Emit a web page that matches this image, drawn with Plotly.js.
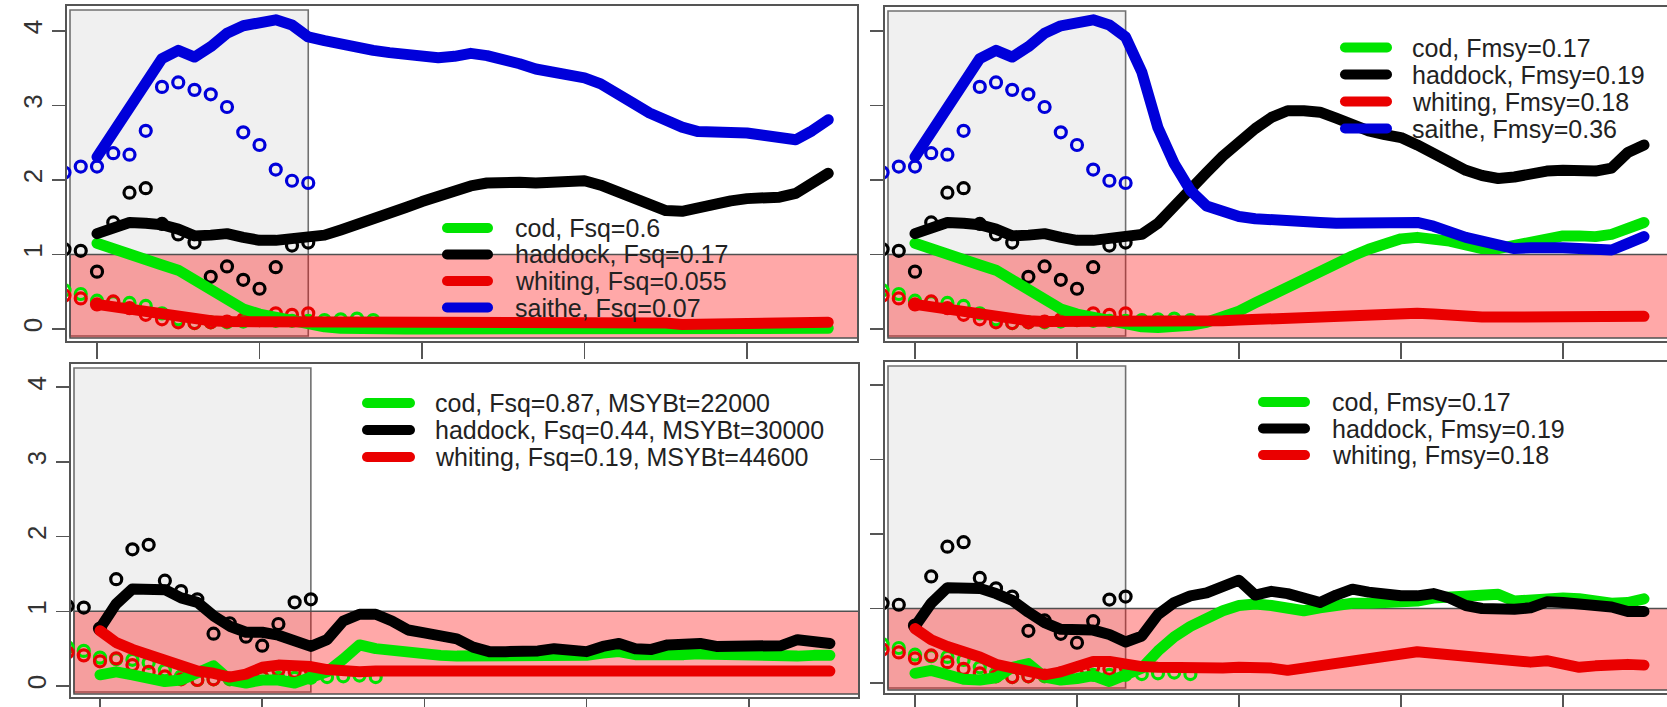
<!DOCTYPE html>
<html><head><meta charset="utf-8">
<script src="https://cdn.plot.ly/plotly-3.0.1.min.js"></script>
<style>
html,body{margin:0;padding:0;background:#fff;overflow:hidden}
#chart{width:1667px;height:707px}
.scatterlayer .js-line{stroke-linejoin:round !important;stroke-linecap:round !important}
.shapelayer path{stroke-linecap:round !important}
</style>
</head><body><div id="chart"></div>
<script>
// ---------------- data ----------------
const yearsObs = [1988,1989,1990,1991,1992,1993,1994,1995,1996,1997,1998,1999,2000,2001,2002,2003];
const yearsObsCod = [1988,1989,1990,1991,1992,1993,1994,1995,1996,1997,1998,1999,2000,2001,2002,2003,2004,2005,2006,2007];
const yearsProj = [1990,1991,1992,1993,1994,1995,1996,1997,1998,1999,2000,2001,2002,2003,2004,2005,2006,2007,2008,2009,
  2010,2011,2012,2013,2014,2015,2016,2017,2018,2019,2020,2021,2022,2023,2024,2025,2026,2027,2028,2029,
  2030,2031,2032,2033,2034,2035];
const xTicks = [1990,2000,2010,2020,2030];
const yTicks = [0,1,2,3,4];

const obsCod = [0.52,0.47,0.38,0.36,0.35,0.31,0.21,0.13,0.08,0.09,0.09,0.10,0.12,0.11,0.11,0.11,0.12,0.13,0.14,0.12];
const obsHaddock = [1.07,1.05,0.77,1.43,1.83,1.89,1.41,1.27,1.16,0.70,0.84,0.66,0.54,0.83,1.12,1.16];
const obsWhiting = [0.45,0.41,0.33,0.37,0.28,0.19,0.13,0.09,0.08,0.09,0.10,0.13,0.12,0.21,0.19,0.21];
const obsSaithe = [2.10,2.18,2.18,2.36,2.34,2.66,3.25,3.31,3.21,3.15,2.98,2.64,2.47,2.14,1.99,1.96];

// top-left: Fsq
const tlCod = [1.15,1.07,0.99,0.92,0.86,0.79,0.66,0.49,0.36,0.27, 0.20,0.15,0.10,0.06,0.03,0.01,0.00,0.00,0.00,0.00,
  0.00,0.00,0.00,0.00,0.00,0.00,0.00,0.00,0.00,0.00, 0.00,0.00,0.00,0.00,0.00,0.00,0.00,0.00,0.00,0.00,
  0.00,0.00,0.00,0.00,0.00,0.01];
const tlHaddock = [1.28,1.36,1.43,1.42,1.40,1.34,1.25,1.26,1.28,1.23, 1.19,1.19,1.21,1.22,1.26,1.33,1.40,1.46,1.55,1.63,
  1.71,1.79,1.86,1.92,1.96,1.98,1.97,1.96,1.98,2.00, 1.99,1.93,1.84,1.74,1.65,1.59,1.58,1.63,1.69,1.72,
  1.75,1.76,1.77,1.82,1.95,2.09];
const tlWhiting = [0.33,0.30,0.26,0.21,0.18,0.15,0.12,0.11,0.10,0.10, 0.11,0.10,0.09,0.08,0.08,0.08,0.08,0.08,0.08,0.08,
  0.08,0.08,0.08,0.08,0.08,0.08,0.08,0.08,0.08,0.08, 0.08,0.08,0.08,0.08,0.08,0.08,0.06,0.06,0.06,0.06,
  0.06,0.06,0.06,0.06,0.08,0.09];
const tlSaithe = [2.31,2.65,2.98,3.30,3.63,3.74,3.65,3.79,3.97,4.07, 4.10,4.15,4.08,3.92,3.87,3.82,3.78,3.74,3.71,3.69,
  3.66,3.64,3.66,3.70,3.67,3.63,3.56,3.49,3.45,3.41, 3.37,3.29,3.18,3.03,2.90,2.80,2.71,2.65,2.65,2.64,
  2.63,2.60,2.57,2.54,2.66,2.81];

// top-right: Fmsy
const trCod = [1.15,1.07,0.99,0.92,0.86,0.79,0.66,0.49,0.36,0.27, 0.20,0.15,0.10,0.06,0.03,0.02,0.03,0.05,0.09,0.16,
  0.24,0.35,0.46,0.56,0.65,0.76,0.87,0.98,1.07,1.15, 1.21,1.23,1.22,1.18,1.13,1.08,1.08,1.13,1.18,1.22,
  1.25,1.25,1.24,1.27,1.36,1.43];
const trHaddock = [1.28,1.36,1.43,1.42,1.40,1.34,1.25,1.26,1.28,1.23, 1.19,1.19,1.21,1.22,1.27,1.42,1.66,1.86,2.10,2.32,
  2.53,2.69,2.84,2.93,2.93,2.91,2.83,2.73,2.66,2.61, 2.57,2.47,2.35,2.23,2.13,2.06,2.02,2.04,2.09,2.12,
  2.13,2.12,2.12,2.16,2.37,2.47];
const trWhiting = [0.33,0.30,0.26,0.21,0.18,0.15,0.12,0.11,0.10,0.10, 0.11,0.10,0.09,0.08,0.08,0.08,0.09,0.09,0.10,0.11,
  0.12,0.13,0.15,0.16,0.17,0.18,0.19,0.20,0.21,0.21, 0.21,0.21,0.20,0.18,0.17,0.16,0.16,0.16,0.16,0.16,
  0.16,0.16,0.16,0.16,0.16,0.17];
const trSaithe = [2.31,2.65,2.98,3.30,3.63,3.74,3.65,3.79,3.97,4.07, 4.10,4.15,4.08,3.92,3.45,2.70,2.22,1.86,1.65,1.56,
  1.51,1.48,1.46,1.45,1.44,1.43,1.42,1.42,1.43,1.45, 1.45,1.43,1.38,1.30,1.23,1.18,1.12,1.08,1.09,1.10,
  1.09,1.08,1.07,1.06,1.15,1.24];

// bottom-left: Fsq with MSY Btrigger
const blCod = [0.15,0.19,0.15,0.09,0.06,0.08,0.18,0.27,0.08,0.04, 0.08,0.08,0.04,0.10,0.19,0.36,0.55,0.50,0.47,0.44,
  0.42,0.41,0.40,0.40,0.39,0.40,0.41,0.41,0.40,0.41, 0.41,0.44,0.46,0.42,0.41,0.42,0.42,0.43,0.42,0.41,
  0.41,0.40,0.39,0.40,0.41,0.41];
const blHaddock = [0.77,1.10,1.30,1.31,1.29,1.18,1.12,0.94,0.80,0.72, 0.72,0.68,0.60,0.53,0.62,0.87,0.96,0.96,0.87,0.75,
  0.71,0.67,0.63,0.52,0.46,0.46,0.46,0.47,0.50,0.48, 0.46,0.53,0.57,0.50,0.49,0.55,0.55,0.57,0.53,0.53,
  0.53,0.53,0.54,0.62,0.58,0.57];
const blWhiting = [0.74,0.58,0.49,0.42,0.34,0.25,0.20,0.17,0.12,0.16, 0.25,0.28,0.28,0.26,0.22,0.19,0.19,0.20,0.20,0.19,
  0.20,0.20,0.19,0.20,0.21,0.20,0.19,0.20,0.19,0.20, 0.21,0.20,0.19,0.20,0.20,0.19,0.20,0.20,0.19,0.20,
  0.20,0.19,0.20,0.20,0.20,0.20];

// bottom-right: Fmsy
const brCod = [0.13,0.17,0.11,0.05,0.04,0.07,0.21,0.26,0.08,0.04, 0.06,0.10,0.02,0.10,0.20,0.43,0.62,0.76,0.88,0.97,
  1.04,1.06,1.04,0.99,0.97,1.01,1.05,1.07,1.07,1.07, 1.08,1.10,1.14,1.15,1.15,1.18,1.19,1.10,1.12,1.15,
  1.14,1.13,1.09,1.07,1.08,1.13];
const brHaddock = [0.76,1.07,1.28,1.29,1.27,1.20,1.11,0.95,0.81,0.72, 0.73,0.71,0.65,0.55,0.63,0.92,1.08,1.17,1.21,1.30,
  1.38,1.18,1.23,1.20,1.13,1.08,1.18,1.26,1.22,1.18, 1.17,1.17,1.20,1.14,1.04,1.00,0.98,0.99,1.01,1.09,
  1.08,1.07,1.03,1.02,0.96,0.96];
const brWhiting = [0.73,0.58,0.49,0.43,0.35,0.25,0.20,0.17,0.11,0.15, 0.24,0.29,0.29,0.25,0.22,0.21,0.20,0.20,0.20,0.20,
  0.21,0.22,0.20,0.17,0.20,0.25,0.28,0.31,0.34,0.37, 0.40,0.42,0.40,0.38,0.35,0.33,0.31,0.28,0.28,0.30,
  0.25,0.21,0.23,0.25,0.25,0.24];

const legTL = ["cod, Fsq=0.6","haddock, Fsq=0.17","whiting, Fsq=0.055","saithe, Fsq=0.07"];
const legTR = ["cod, Fmsy=0.17","haddock, Fmsy=0.19","whiting, Fmsy=0.18","saithe, Fmsy=0.36"];
const legBL = ["cod, Fsq=0.87, MSYBt=22000","haddock, Fsq=0.44, MSYBt=30000","whiting, Fsq=0.19, MSYBt=44600"];
const legBR = ["cod, Fmsy=0.17","haddock, Fmsy=0.19","whiting, Fmsy=0.18"];

const historyEnd = 2003;   // end of grey (historical) period
const refLevel = 1;        // top of pink band

// ---------------- styling ----------------
const W = 1667, H = 707;
const COL = {cod:'#00E400', haddock:'#000000', whiting:'#EA0000', saithe:'#0000DA'};
const AXC = '#555555';
const FONT = 'Liberation Sans, Arial, Helvetica, sans-serif';

const panels = [
  {n:'',  xdom:[67,857],  ydom:[6,341],   xpx:[97,16.25],  ypx:[329,74.5], labels:true,  right:true,
   lines:[['cod',tlCod],['haddock',tlHaddock],['whiting',tlWhiting],['saithe',tlSaithe]], saithe:true,
   leg:{labels:legTL, keys:['cod','haddock','whiting','saithe'], x0:442, x1:493, xt:513, ys:[228,254.5,281,307.5]}},
  {n:'2', xdom:[885,1667], ydom:[7,341],   xpx:[915,16.2],  ypx:[329,74.5], labels:false, right:false,
   lines:[['cod',trCod],['haddock',trHaddock],['whiting',trWhiting],['saithe',trSaithe]], saithe:true,
   leg:{labels:legTR, keys:['cod','haddock','whiting','saithe'], x0:1340, x1:1392, xt:1410, ys:[47.5,74.5,101.5,128.5]}},
  {n:'3', xdom:[71,858],  ydom:[364,697], xpx:[100,16.22], ypx:[686,74.7], labels:true,  right:true,
   lines:[['cod',blCod],['haddock',blHaddock],['whiting',blWhiting]], saithe:false,
   leg:{labels:legBL, keys:['cod','haddock','whiting'], x0:362, x1:415, xt:433, ys:[403,430,457]}},
  {n:'4', xdom:[885,1667], ydom:[362,693], xpx:[915,16.2],  ypx:[683,74.5], labels:false, right:false,
   lines:[['cod',brCod],['haddock',brHaddock],['whiting',brWhiting]], saithe:false,
   leg:{labels:legBR, keys:['cod','haddock','whiting'], x0:1258, x1:1310, xt:1330, ys:[402,428.5,455]}}
];

const traces = [], shapes = [], annotations = [];
const layout = {
  width: W, height: H, margin:{l:0,r:0,t:0,b:0,pad:0},
  paper_bgcolor:'#ffffff', plot_bgcolor:'#ffffff', showlegend:false,
  font:{family:FONT, color:'#222'}
};

panels.forEach(p => {
  const xa = 'x'+p.n, ya = 'y'+p.n;
  const pxToYear = v => 1990 + (v - p.xpx[0]) / p.xpx[1];
  const pxToVal  = v => (p.ypx[0] - v) / p.ypx[1];
  const xr = [pxToYear(p.xdom[0]), pxToYear(p.xdom[1])];
  const yr = [pxToVal(p.ydom[1]), pxToVal(p.ydom[0])];

  layout['xaxis'+p.n] = {
    domain:[p.xdom[0]/W, p.xdom[1]/W], range:xr, anchor:ya,
    showgrid:false, zeroline:false, showline:true, mirror:true, linecolor:AXC, linewidth:1.6,
    ticks:'outside', ticklen:16, tickwidth:1.5, tickcolor:AXC, tickvals:xTicks, showticklabels:false,
    fixedrange:true
  };
  layout['yaxis'+p.n] = {
    domain:[1 - p.ydom[1]/H, 1 - p.ydom[0]/H], range:yr, anchor:xa,
    showgrid:false, zeroline:false, showline:true, mirror:p.right, linecolor:AXC, linewidth:1.6,
    ticks:'outside', ticklen:13, tickwidth:1.5, tickcolor:AXC, tickvals:yTicks,
    showticklabels:p.labels, tickangle:-90, tickfont:{size:26, color:'#333', family:FONT},
    fixedrange:true
  };

  const dx = (xr[1]-xr[0])/(p.xdom[1]-p.xdom[0]);
  const dy = (yr[1]-yr[0])/(p.ydom[1]-p.ydom[0]);
  // grey historical period
  shapes.push({type:'rect', xref:xa, yref:ya, layer:'below',
    x0:xr[0]+3*dx, x1:historyEnd, y0:yr[0]+5*dy, y1:yr[1]-4*dy,
    fillcolor:'#F0F0F0', line:{color:'#707070', width:1.6}});
  // pink band below reference level
  shapes.push({type:'rect', xref:xa, yref:ya, layer:'below',
    x0:xr[0]+3*dx, x1:xr[1]+20*dx, y0:yr[0]+3*dy, y1:refLevel,
    fillcolor:'rgba(255,0,0,0.34)', line:{color:'#505050', width:1.6}});

  // observed circles
  const mk = (x, y, c) => ({type:'scatter', mode:'markers', x:x, y:y, xaxis:xa, yaxis:ya,
    marker:{symbol:'circle-open', size:11, color:c, line:{width:3.2, color:c}}, hoverinfo:'skip'});
  traces.push(mk(yearsObsCod, obsCod, COL.cod));
  traces.push(mk(yearsObs, obsHaddock, COL.haddock));
  traces.push(mk(yearsObs, obsWhiting, COL.whiting));
  if (p.saithe) traces.push(mk(yearsObs, obsSaithe, COL.saithe));

  // projection lines
  p.lines.forEach(([k, arr]) => {
    traces.push({type:'scatter', mode:'lines', x:yearsProj, y:arr, xaxis:xa, yaxis:ya,
      line:{color:COL[k], width:11}, hoverinfo:'skip'});
  });

  // legend (R style, no box)
  p.leg.labels.forEach((lab, i) => {
    const yy = 1 - p.leg.ys[i]/H;
    shapes.push({type:'line', xref:'paper', yref:'paper', layer:'above',
      x0:(p.leg.x0+5)/W, x1:(p.leg.x1-5)/W, y0:yy, y1:yy, line:{color:COL[p.leg.keys[i]], width:10}});
    annotations.push({xref:'paper', yref:'paper', x:p.leg.xt/W, y:yy, xanchor:'left', yanchor:'middle',
      text:lab, showarrow:false, font:{size:25, color:'#222', family:FONT}});
  });
});

layout.shapes = shapes;
layout.annotations = annotations;
Plotly.newPlot('chart', traces, layout, {staticPlot:true, displayModeBar:false});
</script></body></html>
